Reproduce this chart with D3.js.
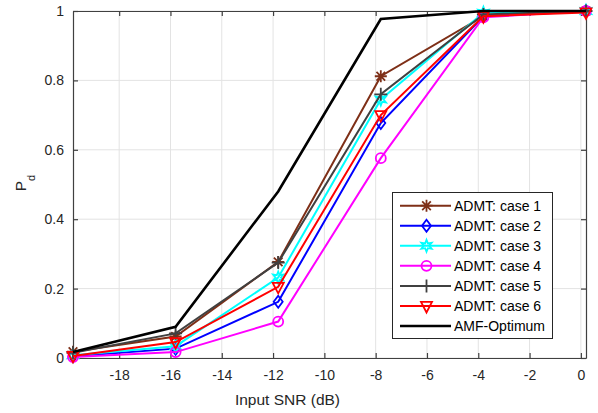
<!DOCTYPE html>
<html><head><meta charset="utf-8">
<script src="https://cdn.jsdelivr.net/npm/d3@7"></script>
<style>body{margin:0;background:#fff;} svg{display:block;font-family:"Liberation Sans",Arial,sans-serif;}</style>
</head><body><svg id="c" width="598" height="413"></svg>
<script>
const snr = [-19.8, -15.8, -11.8, -7.8, -3.8, 0.2];
const case1 = [0.018, 0.062, 0.277, 0.812, 0.985, 1.0];
const case2 = [0.005, 0.027, 0.162, 0.677, 0.985, 1.0];
const case3 = [0.008, 0.034, 0.232, 0.745, 0.995, 1.0];
const case4 = [0.003, 0.017, 0.105, 0.576, 0.982, 1.0];
const case5 = [0.015, 0.071, 0.275, 0.760, 0.990, 1.0];
const case6 = [0.006, 0.046, 0.205, 0.700, 0.985, 0.996];
const amf   = [0.017, 0.090, 0.480, 0.977, 1.0, 1.0];
const names = ["ADMT: case 1","ADMT: case 2","ADMT: case 3","ADMT: case 4","ADMT: case 5","ADMT: case 6","AMF-Optimum"];
const xTicks = [-18,-16,-14,-12,-10,-8,-6,-4,-2,0];
const yTicks = [0,0.2,0.4,0.6,0.8,1];

const series = [
  {v:case1, c:"#7e2f17", m:"asterisk"},
  {v:case2, c:"#0000ff", m:"diamond"},
  {v:case3, c:"#00ffff", m:"hexagram"},
  {v:case4, c:"#ff00ff", m:"circle"},
  {v:case5, c:"#404040", m:"plus"},
  {v:case6, c:"#ff0000", m:"tridown"},
  {v:amf,   c:"#000000", m:null}
];

const svg = d3.select("#c");
const L=73, R=586, T=11, B=358;
const x = d3.scaleLinear().domain([-19.8,0.2]).range([L,R]);
const y = d3.scaleLinear().domain([0,1]).range([B,T]);
const axisCol="#404040", txtCol="#262626";

// grid
const g = svg.append("g");
g.selectAll(".gx").data(xTicks).enter().append("line")
  .attr("x1",d=>x(d)).attr("x2",d=>x(d)).attr("y1",T).attr("y2",B)
  .attr("stroke","#e3e3e3").attr("stroke-width",1);
g.selectAll(".gy").data(yTicks).enter().append("line")
  .attr("x1",L).attr("x2",R).attr("y1",d=>y(d)).attr("y2",d=>y(d))
  .attr("stroke","#e3e3e3").attr("stroke-width",1);

// axes
const ax = svg.append("g").attr("transform",`translate(0,${B})`)
  .call(d3.axisBottom(x).tickValues(xTicks).tickSizeInner(-5).tickSizeOuter(0).tickPadding(12).tickFormat(d=>String(d)));
const ay = svg.append("g").attr("transform",`translate(${L},0)`)
  .call(d3.axisLeft(y).tickValues(yTicks).tickSizeInner(-5).tickSizeOuter(0).tickPadding(9).tickFormat(d=>d===0?"0":d===1?"1":d3.format(".1f")(d)));
const axTop = svg.append("g").attr("transform",`translate(0,${T})`)
  .call(d3.axisTop(x).tickValues(xTicks).tickSizeInner(-5).tickSizeOuter(0).tickFormat(""));
const ayR = svg.append("g").attr("transform",`translate(${R},0)`)
  .call(d3.axisRight(y).tickValues(yTicks).tickSizeInner(-5).tickSizeOuter(0).tickFormat(""));
[ax,ay,axTop,ayR].forEach(a=>{
  a.select(".domain").attr("stroke",axisCol).attr("stroke-width",1.2);
  a.selectAll(".tick line").attr("stroke",axisCol).attr("stroke-width",1.2);
  a.selectAll("text").attr("fill",txtCol).style("font-size","14px").style("font-family","'Liberation Sans',Arial,sans-serif");
});

// labels
svg.append("text").attr("x",(L+R)/2-42).attr("y",405).attr("text-anchor","middle")
  .attr("fill",txtCol).style("font-size","15.5px").text("Input SNR (dB)");
const yl = svg.append("text").attr("transform","translate(26,183) rotate(-90)")
  .attr("text-anchor","middle").attr("fill",txtCol).style("font-size","15.5px");
yl.append("tspan").text("P");
yl.append("tspan").attr("dy",9).style("font-size","11px").text("d");

// marker drawing
function marker(sel, type, col, cx, cy){
  const s=5;
  const gm = sel.append("g").attr("transform",`translate(${cx},${cy})`)
    .attr("stroke",col).attr("fill","none").attr("stroke-width",1.8);
  if(type==="asterisk"){
    const a=s+1;
    gm.append("path").attr("d",`M${-a},0H${a}M0,${-a}V${a}M${-a*0.72},${-a*0.72}L${a*0.72},${a*0.72}M${-a*0.72},${a*0.72}L${a*0.72},${-a*0.72}`);
  } else if(type==="plus"){
    gm.append("path").attr("d",`M${-s-1.5},0H${s+1.5}M0,${-s-1.5}V${s+1.5}`);
  } else if(type==="diamond"){
    gm.append("path").attr("d",`M0,${-s-1}L${s-0.5},0L0,${s+1}L${-s+0.5},0Z`);
  } else if(type==="circle"){
    gm.append("circle").attr("r",s);
  } else if(type==="tridown"){
    gm.append("path").attr("d",`M${-s-0.5},${-s+1}L${s+0.5},${-s+1}L0,${s+1.5}Z`);
  } else if(type==="hexagram"){
    const r1=s+1, r2=s*0.55;
    const pts=d3.range(12).map(i=>{const a=Math.PI/2+i*Math.PI/6; const r=i%2?r2:r1; return [r*Math.cos(a), -r*Math.sin(a)];});
    gm.append("path").attr("d","M"+pts.map(p=>p.join(",")).join("L")+"Z");
  }
}

const line = d3.line().x((d,i)=>x(snr[i])).y(d=>y(d));
const plot = svg.append("g");
series.forEach(s=>{
  const gs = plot.append("g");
  gs.append("path").attr("d",line(s.v)).attr("fill","none").attr("stroke",s.c)
    .attr("stroke-width",s.m?2:2.6).attr("stroke-linejoin","miter");
  if(s.m) s.v.forEach((v,i)=>marker(gs,s.m,s.c,x(snr[i]),y(v)));
});

// legend
const lg = svg.append("g");
lg.append("rect").attr("x",392.5).attr("y",192.5).attr("width",160).attr("height",146)
  .attr("fill","#fff").attr("stroke","#262626").attr("stroke-width",1);
series.forEach((s,i)=>{
  const yy = 205.7 + i*20.05;
  lg.append("line").attr("x1",400).attr("x2",451).attr("y1",yy).attr("y2",yy)
    .attr("stroke",s.c).attr("stroke-width",s.m?2:2.6);
  if(s.m) marker(lg,s.m,s.c,426.5,yy);
  lg.append("text").attr("x",454).attr("y",yy+5).attr("fill","#000")
    .style("font-size","14px").text(names[i]);
});
</script></body></html>
